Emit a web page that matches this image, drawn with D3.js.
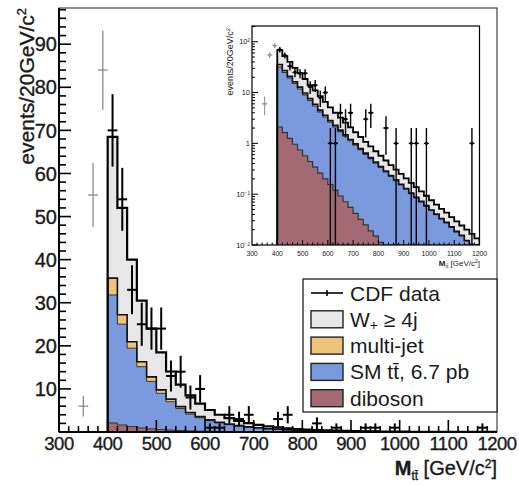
<!DOCTYPE html>
<html><head><meta charset="utf-8">
<script src="https://cdn.jsdelivr.net/npm/d3@7"></script>
<style>
body{margin:0;background:#fff}
svg{display:block}
text{font-family:"Liberation Sans",Arial,Helvetica,sans-serif;fill:#1a1a1a}
.heavy{stroke:#1a1a1a;stroke-width:0.35px}
</style>
</head><body>
<svg id="c" width="519" height="485"></svg>
<script>
// ---------------- data ----------------
const binLow = [400,420,440,460,480,500,520,540,560,580,600,620,640,660,680,700,720,740,760,780,
                800,820,840,860,880,900,920,940,960,980,1000,1020,1040,1060,1080,1100,1120,1140,1160,1180];
const binHigh = 1200;
const diboson = [2.1,1.62,1.25,0.96,0.74,0.57,0.44,0.34,0.26,0.2,0.155,0.12,0.092,0.071,0.055,0.042,0.032,0.025,0.019,0.015,
                 0.0113,0.0087,0.0067,0.0052,0.004,0.0031,0.0024,0.0018,0.0014,0.0011,0.0008,0.0006,0.0005,0.0004,0.0003,0.0002,0.0002,0.0001,0.0001,0.0001];
const ttbar = [29.7,23.4,18.2,14.2,11.0,8.4,6.6,5.1,3.9,3.1,2.45,1.98,1.61,1.31,1.07,0.88,0.72,0.585,0.48,0.395,
               0.324,0.266,0.218,0.18,0.148,0.122,0.1,0.083,0.069,0.057,0.047,0.039,0.032,0.027,0.022,0.018,0.015,0.012,0.01,0.0082];
const multijet = [3.9,2.2,1.5,1.15,1.05,0.8,0.6,0.46,0.35,0.27,0.2,0.155,0.12,0.09,0.07,0.054,0.042,0.032,0.025,0.019,
                  0.015,0.011,0.009,0.007,0.005,0.004,0.003,0.0024,0.0019,0.0015,0.0012,0.0009,0.0007,0.0005,0.0004,0.0003,0.0003,0.0002,0.0002,0.0001];
const wjets = [32.8,24.8,19.05,14.2,11.2,8.7,6.4,5.1,4.0,3.0,2.3,1.75,1.38,1.08,0.86,0.68,0.54,0.43,0.345,0.27,
               0.22,0.174,0.141,0.113,0.093,0.076,0.062,0.051,0.041,0.0335,0.027,0.022,0.018,0.0155,0.0126,0.0107,0.0087,0.0078,0.0063,0.0051];

const dataMass  = [350,370,390,410,430,450,470,490,510,530,550,570,590,610,630,650,670,690,750,770,830,870,930,950,990,1170];
const dataCount = [6,55,84,70,54,33,25,24,24,13,14,8,10,1,1,4,3,4,3,4,2,1,1,1,1,1];
const dataErr   = [2.4,7.4,9.2,8.4,7.3,5.7,5,4.9,4.9,3.6,3.7,2.8,3.2,1,1,2,1.7,2,1.7,2,1.4,1,1,1,1,1];
const fitStart = 400;   // points below are drawn in grey

const xTickLabels = [300,400,500,600,700,800,900,1000,1100,1200];
const yTickLabels = [10,20,30,40,50,60,70,80,90];
const insetYTicks = [0.01,0.1,1,10,100];
const insetYTickText = ["10\u207B\u00B2","10\u207B\u00B9","1","10","10\u00B2"];

const keys = ["diboson","ttbar","multijet","wjets"];
const colors = {diboson:"#a46a73", ttbar:"#7b99dd", multijet:"#efc27c", wjets:"#e7e7e7"};
const legendItems = [
  {key:"data", label:"CDF data"},
  {key:"wjets", label:"W"},
  {key:"multijet", label:"multi-jet"},
  {key:"ttbar", label:"SM tt\u0304, 6.7 pb"},
  {key:"diboson", label:"diboson"}
];

// ---------------- setup ----------------
const svg = d3.select("#c");
svg.append("rect").attr("width",519).attr("height",485).attr("fill","#fff");

const rows = binLow.map((lo,i)=>({lo, diboson:diboson[i], ttbar:ttbar[i], multijet:multijet[i], wjets:wjets[i]}));
rows.push(Object.assign({}, rows[rows.length-1], {lo: binHigh}));
const stacked = d3.stack().keys(keys)(rows);

function drawPanel(g, x, y, opt) {
  const clampV = v => Math.max(v, opt.minV);
  g.selectAll("path.fill").data(stacked).join("path")
    .attr("d", d3.area().curve(d3.curveStepAfter)
      .x(d=>x(d.data.lo)).y0(d=>y(clampV(d[0]))).y1(d=>y(clampV(d[1]))))
    .attr("fill", s=>colors[s.key]).attr("stroke","none");
  stacked.forEach((s,k)=>{
    const pts = [[binLow[0], 0]].concat(s.map(d=>[d.data.lo, d[1]])).concat([[binHigh, 0]]);
    g.append("path")
      .attr("d", d3.line().curve(d3.curveStepAfter).x(p=>x(p[0])).y(p=>y(clampV(p[1])))(pts))
      .attr("fill","none")
      .attr("stroke", k===3 ? "#000" : (k===2 ? "#111" : "#333"))
      .attr("stroke-width", k===3 ? opt.lwTot : (k===2 ? opt.lwIn : opt.lwThin));
  });
  dataMass.forEach((m,i)=>{
    const n = dataCount[i], e = dataErr[i];
    const col = m < fitStart ? "#8c8c8c" : "#000";
    const lw = m < fitStart ? opt.lwGrey : opt.lwData;
    g.append("line").attr("x1",x(m)).attr("x2",x(m))
      .attr("y1",y(clampV(n-e))).attr("y2",y(n+e))
      .attr("stroke",col).attr("stroke-width",lw);
    g.append("line").attr("x1",x(m-10)).attr("x2",x(m+10))
      .attr("y1",y(n)).attr("y2",y(n))
      .attr("stroke",col).attr("stroke-width",lw);
  });
}

// ---------------- main panel ----------------
const x = d3.scaleLinear().domain([300,1200]).range([59,497]);
const y = d3.scaleLinear().domain([0,98.4]).range([432,8]);

svg.append("clipPath").attr("id","mainclip").append("rect")
  .attr("x",59).attr("y",8).attr("width",438).attr("height",424);
const gm = svg.append("g").attr("clip-path","url(#mainclip)");
drawPanel(gm, x, y, {minV:0, lwTot:2.2, lwIn:1.6, lwThin:1, lwData:2, lwGrey:1.3});

const gt = svg.append("g").attr("stroke","#000");
d3.range(2,98.4,2).forEach(v=>{
  const major = v % 10 === 0;
  gt.append("line").attr("x1",59).attr("x2",59+(major?12:7))
    .attr("y1",y(v)).attr("y2",y(v)).attr("stroke-width",1.6);
});
d3.range(320,1200,20).forEach(v=>{
  const major = v % 100 === 0;
  gt.append("line").attr("y1",432).attr("y2",432-(major?12:6))
    .attr("x1",x(v)).attr("x2",x(v)).attr("stroke-width",1.6);
});
svg.append("rect").attr("x",59).attr("y",8).attr("width",438).attr("height",424)
  .attr("fill","none").attr("stroke","#444").attr("stroke-width",1.2);
svg.append("line").attr("x1",59).attr("x2",59).attr("y1",8).attr("y2",432).attr("stroke","#000").attr("stroke-width",2);
svg.append("line").attr("x1",59).attr("x2",497).attr("y1",432).attr("y2",432).attr("stroke","#000").attr("stroke-width",2);

svg.append("g").selectAll("text").data(xTickLabels).join("text").attr("class","heavy")
  .attr("x",d=>x(d)).attr("y",450).attr("text-anchor","middle")
  .attr("font-size",18.5).attr("letter-spacing",-0.5).text(d=>d);
svg.append("g").selectAll("text").data(yTickLabels).join("text").attr("class","heavy")
  .attr("x",57).attr("y",d=>y(d)).attr("dy","0.36em").attr("text-anchor","end")
  .attr("font-size",20).text(d=>d);

const yt = svg.append("text").attr("class","heavy").attr("transform","translate(34,8) rotate(-90)")
  .attr("text-anchor","end").attr("font-size",21);
yt.append("tspan").text("events/20GeV/c");
yt.append("tspan").attr("font-size",13).attr("dy",-8).text("2");

const xt = svg.append("text").attr("class","heavy").attr("x",497).attr("y",475).attr("text-anchor","end").attr("font-size",20);
xt.append("tspan").attr("font-weight","bold").text("M");
xt.append("tspan").attr("font-size",12).attr("dy",5).text("tt\u0304");
xt.append("tspan").attr("dy",-5).text(" [GeV/c");
xt.append("tspan").attr("font-size",12).attr("dy",-7).text("2");
xt.append("tspan").attr("dy",7).text("]");

// ---------------- inset ----------------
const ix = d3.scaleLinear().domain([300,1200]).range([252,479.5]);
const iy = d3.scaleLog().domain([0.01,204]).range([245,26]);
svg.append("rect").attr("x",252).attr("y",26).attr("width",227.5).attr("height",219).attr("fill","#fff");
svg.append("clipPath").attr("id","insclip").append("rect")
  .attr("x",252).attr("y",26).attr("width",227.5).attr("height",219);
const gi = svg.append("g").attr("clip-path","url(#insclip)");
drawPanel(gi, ix, iy, {minV:0.01, lwTot:1.8, lwIn:1.6, lwThin:1.2, lwData:1.4, lwGrey:1});
dataMass.forEach((m,i)=>{
  gi.append("circle").attr("cx",ix(m)).attr("cy",iy(dataCount[i])).attr("r",1.6)
    .attr("fill", m < fitStart ? "#999" : "#000");
});
const git = svg.append("g").attr("stroke","#000").attr("stroke-width",1);
insetYTicks.forEach((t,k)=>{
  git.append("line").attr("x1",252).attr("x2",258).attr("y1",iy(t)).attr("y2",iy(t));
  if (k < insetYTicks.length-1) d3.range(2,10).forEach(mm=>{
    const v = t*mm; if (v < 204)
    git.append("line").attr("x1",252).attr("x2",255).attr("y1",iy(v)).attr("y2",iy(v));
  });
});
git.append("line").attr("x1",252).attr("x2",255).attr("y1",iy(200)).attr("y2",iy(200));
d3.range(320,1200,20).forEach(v=>{
  const major = v % 100 === 0;
  git.append("line").attr("y1",245).attr("y2",245-(major?5:2.5)).attr("x1",ix(v)).attr("x2",ix(v));
});
svg.append("rect").attr("x",252).attr("y",26).attr("width",227.5).attr("height",219)
  .attr("fill","none").attr("stroke","#000").attr("stroke-width",1.2);
svg.append("g").selectAll("text").data(xTickLabels).join("text")
  .attr("x",d=>ix(d)).attr("y",256).attr("text-anchor","middle")
  .attr("font-size",7).attr("letter-spacing",-0.2).text(d=>d);
svg.append("g").selectAll("text").data(insetYTicks).join("text")
  .attr("x",250).attr("y",d=>iy(d)).attr("dy","0.35em").attr("text-anchor","end")
  .attr("font-size",7.5).text((d,i)=>insetYTickText[i]);
const iyt = svg.append("text").attr("transform","translate(233,28) rotate(-90)")
  .attr("text-anchor","end").attr("font-size",9);
iyt.append("tspan").text("events/20GeV/c");
iyt.append("tspan").attr("font-size",6).attr("dy",-3).text("2");
const ixt = svg.append("text").attr("x",480).attr("y",266).attr("text-anchor","end").attr("font-size",8);
ixt.append("tspan").attr("font-weight","bold").text("M");
ixt.append("tspan").attr("font-size",5).attr("dy",2).text("tt\u0304");
ixt.append("tspan").attr("dy",-2).text(" [GeV/c");
ixt.append("tspan").attr("font-size",5).attr("dy",-3).text("2");
ixt.append("tspan").attr("dy",3).text("]");

// ---------------- legend ----------------
const lg = svg.append("g");
lg.append("rect").attr("x",303).attr("y",279).attr("width",194).attr("height",133)
  .attr("fill","#fff").attr("stroke","#222").attr("stroke-width",1.3);
legendItems.forEach((it,i)=>{
  const cy = 293 + i*26.3;
  if (it.key === "data") {
    lg.append("line").attr("x1",311).attr("x2",343).attr("y1",cy).attr("y2",cy).attr("stroke","#000").attr("stroke-width",1.6);
    lg.append("line").attr("x1",327).attr("x2",327).attr("y1",cy-3).attr("y2",cy+3).attr("stroke","#000").attr("stroke-width",1.6);
  } else {
    lg.append("rect").attr("x",311).attr("y",cy-8.5).attr("width",32).attr("height",17)
      .attr("fill",colors[it.key]).attr("stroke","#222").attr("stroke-width",1.4);
  }
  const t = lg.append("text").attr("x",350).attr("y",cy+7.5).attr("font-size",21);
  if (it.key === "wjets") {
    t.append("tspan").text("W");
    t.append("tspan").attr("font-size",14).attr("dy",3).text("+");
    t.append("tspan").attr("dy",-3).text(" \u2265 4j");
  } else t.text(it.label);
});
</script>
</body></html>
